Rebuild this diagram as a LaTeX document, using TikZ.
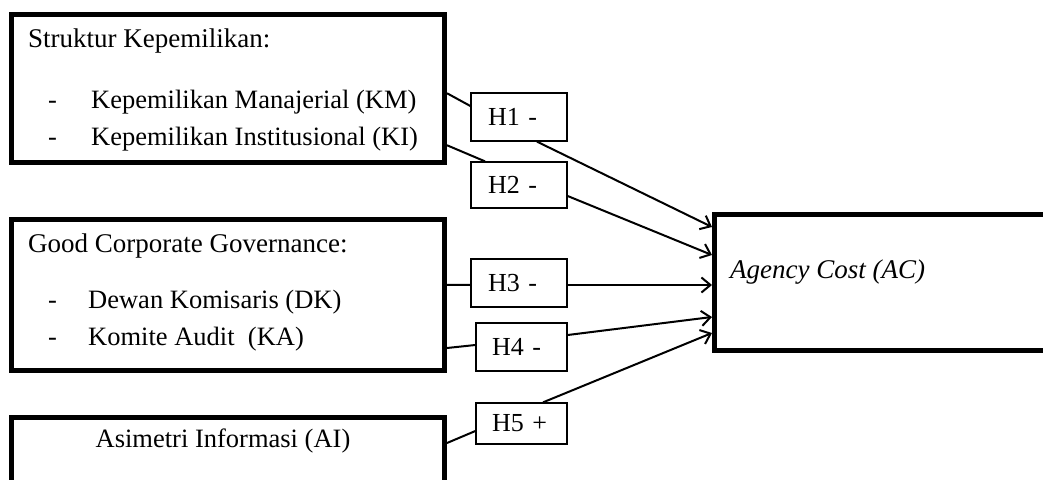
\documentclass[tikz,border=0pt]{standalone}
\usepackage{fontspec}
\setmainfont{Liberation Serif}
\usetikzlibrary{arrows.meta}

\begin{document}
\begin{tikzpicture}[x=1pt, y=-1pt,
    varbox/.style={draw, line width=5pt, minimum width=433pt, inner sep=0pt},
    hypbox/.style={draw, line width=1.3pt, inner ysep=0pt, align=left,
        font=\fontsize{26}{30}\selectfont},
    vartext/.style={anchor=base west, inner sep=0pt, font=\fontsize{26.5}{30}\selectfont},
    headtext/.style={vartext, font=\fontsize{27}{30}\selectfont},
    link/.style={line width=2pt},
    effect/.style={line width=2pt, -{Straight Barb[length=9pt, width=15pt]}}]

    \clip (0,0) rectangle (1043,479);

    % Variable boxes
    \node [varbox, minimum height=147.5pt] (sk) at (228,88.25) {};
    \node [varbox, minimum height=150.5pt] (gcg) at (228,294.75) {};
    \node [varbox, minimum height=150pt] (ai) at (228,492) {};
    \node [varbox, minimum width=400pt, minimum height=136pt] (ac) at (914.5,282.5) {};

    % Texts
    \node [headtext] (skhead) at (28,47) {Struktur Kepemilikan:};
    \node [vartext] (kmdash) at (48,108) {-};
    \node [vartext] (km) at (91,108) {Kepemilikan Manajerial (KM)};
    \node [vartext] (kidash) at (48,145) {-};
    \node [vartext] (ki) at (91,145) {Kepemilikan Institusional (KI)};

    \node [headtext] (gcghead) at (28,252) {Good Corporate Governance:};
    \node [vartext] (dkdash) at (48,308) {-};
    \node [vartext] (dk) at (88,308) {Dewan Komisaris (DK)};
    \node [vartext] (kadash) at (48,345) {-};
    \node [vartext] (ka) at (88,345) {Komite Audit \ (KA)};

    \node [vartext, anchor=base] (aitext) at (223,447) {Asimetri Informasi (AI)};
    \node [headtext] (actext) at (730,278) {\itshape Agency Cost (AC)};

    % Hypotheses
    \node [hypbox, inner xsep=17pt, text width=62pt, minimum height=48pt] (h1) at (519,117) {H1 -};
    \node [hypbox, inner xsep=17pt, text width=62pt, minimum height=46pt] (h2) at (519,185) {H2 -};
    \node [hypbox, inner xsep=17pt, text width=62pt, minimum height=48pt] (h3) at (519,283) {H3 -};
    \node [hypbox, inner xsep=16pt, text width=59pt, minimum height=48pt] (h4) at (521.5,347) {H4 -};
    \node [hypbox, inner xsep=16pt, text width=59pt, minimum height=41pt] (h5) at (521.5,423.5) {H5 +};

    % Links
    \draw [link] ([yshift=-5pt]sk.east) -- ([yshift=11pt]h1.west);
    \draw [link] ([yshift=-57pt]sk.east) -- ([xshift=-34pt]h2.north);
    \draw [link] ([yshift=10pt]gcg.east) -- ([yshift=-2pt]h3.west);
    \draw [link] ([yshift=-53.25pt]gcg.east) -- ([yshift=2pt]h4.west);
    \draw [link] ([yshift=49pt]ai.east) -- ([yshift=-7.5pt]h5.west);

    % Effects
    \draw [effect] ([xshift=18pt]h1.south) -- ([yshift=55.5pt]ac.west);
    \draw [effect] ([yshift=-11pt]h2.east) -- ([yshift=27.5pt]ac.west);
    \draw [effect] ([yshift=-2pt]h3.east) -- ([yshift=-2.5pt]ac.west);
    \draw [effect] ([yshift=12pt]h4.east) -- ([yshift=-34.5pt]ac.west);
    \draw [effect] ([xshift=21.5pt]h5.north) -- ([yshift=-50.5pt]ac.west);
\end{tikzpicture}
\end{document}
